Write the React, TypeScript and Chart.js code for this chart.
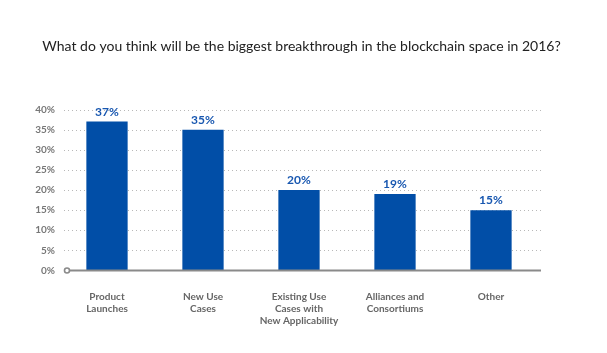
import React, { useEffect, useRef } from "react";
import { Chart, registerables } from "chart.js";

Chart.register(...registerables);

const categories: string[][] = [
  ["Product", "Launches"],
  ["New Use", "Cases"],
  ["Existing Use", "Cases with", "New Applicability"],
  ["Alliances and", "Consortiums"],
  ["Other"],
];
const values: number[] = [37, 35, 20, 19, 15];
const yTickStep = 5;
const yMax = 40;
const titleText = "What do you think will be the biggest breakthrough in the blockchain space in 2016?";

const FONT = "Lato, 'Open Sans', sans-serif";
const BAR_COLOR = "#014ea7";
const LABEL_COLOR = "#1857b0";

const gridPlugin = {
  id: "customGrid",
  beforeDatasetsDraw(chart: any) {
    const { ctx, chartArea, scales } = chart;
    const y = scales.y;
    ctx.save();
    ctx.fillStyle = "#b8b8b8";
    y.ticks.forEach((t: any) => {
      if (t.value === 0) return;
      const py = Math.round(y.getPixelForValue(t.value));
      for (let x = chartArea.left + 5; x <= chartArea.right + 1; x += 4) {
        ctx.fillRect(x, py, 1, 1);
      }
    });
    ctx.restore();
  },
  afterDatasetsDraw(chart: any) {
    const { ctx, chartArea, scales, width } = chart;
    const y = scales.y;
    const py = y.getPixelForValue(0);
    ctx.save();
    ctx.strokeStyle = "#8a8a8a";
    ctx.lineWidth = 2;
    ctx.beginPath();
    ctx.moveTo(chartArea.left + 10, py);
    ctx.lineTo(chartArea.right + 2, py);
    ctx.stroke();
    ctx.beginPath();
    ctx.arc(chartArea.left + 8, py, 2.5, 0, Math.PI * 2);
    ctx.fillStyle = "#ffffff";
    ctx.fill();
    ctx.lineWidth = 1.6;
    ctx.stroke();
    // value labels
    const meta = chart.getDatasetMeta(0);
    ctx.fillStyle = LABEL_COLOR;
    ctx.font = `bold 12px ${FONT}`;
    ctx.textAlign = "center";
    ctx.textBaseline = "alphabetic";
    meta.data.forEach((bar: any, i: number) => {
      ctx.fillText(values[i] + "%", bar.x, bar.y - 6);
    });
    // title
    ctx.fillStyle = "#222222";
    ctx.font = `normal 14px ${FONT}`;
    ctx.textBaseline = "middle";
    ctx.fillText(titleText, width / 2 - 2, 46);
    ctx.restore();
  },
};

export default function App() {
  const ref = useRef<HTMLCanvasElement>(null);
  useEffect(() => {
    const chart = new Chart(ref.current!, {
      type: "bar",
      data: {
        labels: categories,
        datasets: [
          {
            data: values,
            backgroundColor: BAR_COLOR,
            categoryPercentage: 1,
            barPercentage: 0.43,
          },
        ],
      },
      options: {
        animation: false,
        responsive: false,
        devicePixelRatio: 1,
        layout: { padding: { left: 0, right: 68, top: 109.5, bottom: 0 } },
        plugins: {
          legend: { display: false },
          tooltip: { enabled: false },
          title: { display: false },
        },
        scales: {
          x: {
            grid: { display: false, drawTicks: false },
            border: { display: false },
            ticks: {
              color: "#666666",
              font: { family: FONT, size: 10, weight: "bold", lineHeight: 1.2 },
              padding: 20,
              maxRotation: 0,
              autoSkip: false,
            },
            afterFit(scale: any) {
              scale.height = 82.5;
            },
          },
          y: {
            min: 0,
            max: yMax,
            grid: { display: false, drawTicks: false },
            border: { display: false },
            ticks: {
              stepSize: yTickStep,
              color: "#777777",
              font: { family: FONT, size: 10, weight: "bold" },
              padding: 4,
              callback: (v: any) => v + "%",
            },
            afterFit(scale: any) {
              scale.width = 59;
            },
          },
        },
      },
      plugins: [gridPlugin],
    } as any);
    return () => chart.destroy();
  }, []);
  return (
    <div style={{ position: "fixed", left: 0, top: 0, width: 607, height: 353, background: "#fff" }}>
      <canvas ref={ref} width={607} height={353} style={{ width: 607, height: 353 }} />
    </div>
  );
}
